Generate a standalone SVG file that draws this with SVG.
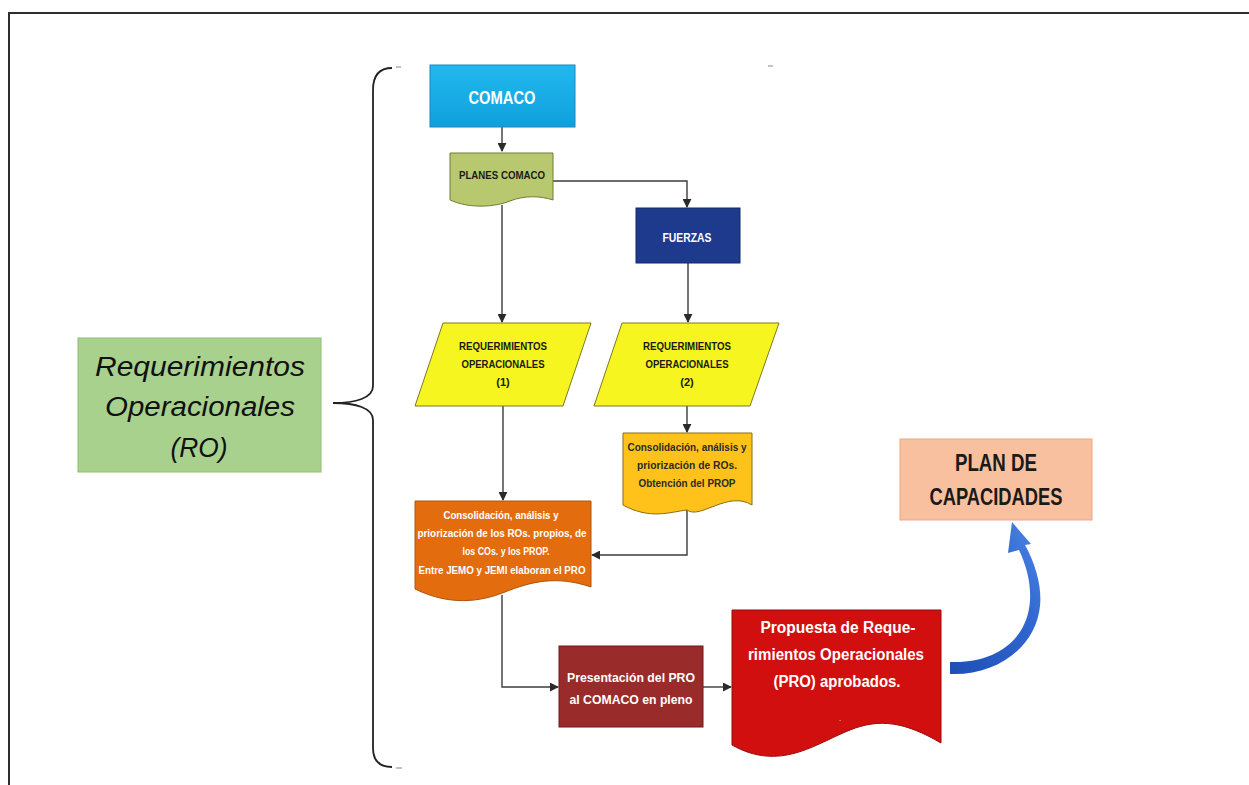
<svg xmlns="http://www.w3.org/2000/svg" width="1249" height="785" viewBox="0 0 1249 785">
  <style>
    .conn { fill: none; stroke: #3c3c3c; stroke-width: 1.4; }
    .lbl { font-family: "Liberation Sans", Arial, sans-serif; text-anchor: middle; }
    .small { font-size: 11px; font-weight: bold; fill: #1a1a1a; }
    .white { fill: #ffffff; }
    .b { font-weight: bold; }
  </style>
  <defs>
    <marker id="arr" viewBox="0 0 10 10" refX="9" refY="5" markerWidth="9" markerHeight="9" markerUnits="userSpaceOnUse" orient="auto">
      <path d="M0,0 L10,5 L0,10 Z" fill="#2a2a2a"/>
    </marker>
    <linearGradient id="gCom" x1="0" y1="0" x2="0" y2="1">
      <stop offset="0" stop-color="#22b8ef"/>
      <stop offset="1" stop-color="#0fa0dc"/>
    </linearGradient>
    <linearGradient id="gBlue" x1="0" y1="1" x2="1" y2="0">
      <stop offset="0" stop-color="#1e4fb5"/>
      <stop offset="0.6" stop-color="#2f66cf"/>
      <stop offset="1" stop-color="#4f86e4"/>
    </linearGradient>
  </defs>

  <rect width="1249" height="785" fill="#ffffff"/>
  <!-- frame -->
  <path d="M9 785 V13 H1249" fill="none" stroke="#2e2e2e" stroke-width="2"/>

  <!-- brace -->
  <g id="brace">
    <path d="M392 68 C380 68 373 75 373 90 V386 C373 398 356 403 333 403 C356 403 373 408 373 420 V748 C373 761 380 767 392 767" fill="none" stroke="#222" stroke-width="1.8"/>
    <path d="M396 67 H401 M396 768 H402 M768 66 H773" stroke="#888" stroke-width="1.2"/>
  </g>

  <!-- connectors -->
  <g id="connectors">
    <path class="conn" d="M502 127 V151" marker-end="url(#arr)"/>
    <path class="conn" d="M553 181 H687 V207" marker-end="url(#arr)"/>
    <path class="conn" d="M502 205 V322" marker-end="url(#arr)"/>
    <path class="conn" d="M688 263 V322" marker-end="url(#arr)"/>
    <path class="conn" d="M503 406 V500" marker-end="url(#arr)"/>
    <path class="conn" d="M687 406 V432" marker-end="url(#arr)"/>
    <path class="conn" d="M687 508 V555 H592" marker-end="url(#arr)"/>
    <path class="conn" d="M502 595 V687 H558" marker-end="url(#arr)"/>
    <path class="conn" d="M703 687 H731" marker-end="url(#arr)"/>
  </g>

  <g id="ro">
    <rect x="78" y="338" width="243" height="134" fill="#a9d18e" stroke="#8fbe72" stroke-width="1"/>
    <text class="lbl" x="200" y="376" font-size="27" font-style="italic" fill="#111" textLength="210" lengthAdjust="spacingAndGlyphs">Requerimientos</text>
    <text class="lbl" x="200" y="416" font-size="27" font-style="italic" fill="#111" textLength="190" lengthAdjust="spacingAndGlyphs">Operacionales</text>
    <text class="lbl" x="199" y="457" font-size="27" font-style="italic" fill="#111" textLength="57" lengthAdjust="spacingAndGlyphs">(RO)</text>
  </g>

  <g id="comaco">
    <rect x="430" y="65" width="145" height="62" fill="url(#gCom)" stroke="#1a86bf" stroke-width="1"/>
    <text class="lbl white b" x="502" y="104" font-size="18" textLength="67" lengthAdjust="spacingAndGlyphs">COMACO</text>
  </g>

  <g id="planes">
    <path d="M450 153 H553 V200 C541 196 525 195 510 201 C495 207 470 209 450 200 Z" fill="#b7c86e" stroke="#6f7d33" stroke-width="1"/>
    <text class="lbl small" x="502" y="179" font-size="10" textLength="86" lengthAdjust="spacingAndGlyphs">PLANES COMACO</text>
  </g>

  <g id="fuerzas">
    <rect x="636" y="208" width="104" height="55" fill="#1e3a8c" stroke="#132a68" stroke-width="1"/>
    <text class="lbl white b" x="687" y="242" font-size="13" textLength="49" lengthAdjust="spacingAndGlyphs">FUERZAS</text>
  </g>

  <g id="req1">
    <path d="M443 323 H591 L563 406 H415 Z" fill="#f6f51f" stroke="#7d7a25" stroke-width="1"/>
    <text class="lbl small" x="503" y="350" font-size="10" textLength="88" lengthAdjust="spacingAndGlyphs">REQUERIMIENTOS</text>
    <text class="lbl small" x="503" y="368" font-size="10" textLength="83" lengthAdjust="spacingAndGlyphs">OPERACIONALES</text>
    <text class="lbl small" x="503" y="386" font-size="10">(1)</text>
  </g>

  <g id="req2">
    <path d="M622 323 H779 L750 406 H594 Z" fill="#f6f51f" stroke="#7d7a25" stroke-width="1"/>
    <text class="lbl small" x="687" y="350" font-size="10" textLength="88" lengthAdjust="spacingAndGlyphs">REQUERIMIENTOS</text>
    <text class="lbl small" x="687" y="368" font-size="10" textLength="83" lengthAdjust="spacingAndGlyphs">OPERACIONALES</text>
    <text class="lbl small" x="687" y="386" font-size="10">(2)</text>
  </g>

  <g id="prop">
    <path d="M623 433 H752 V505 C728 490 700 520 687 510 C670 512 650 520 623 505 Z" fill="#ffc21a" stroke="#8b6c12" stroke-width="1"/>
    <text class="lbl" x="687" y="451" font-size="11" font-weight="bold" fill="#2a2a2a" textLength="119" lengthAdjust="spacingAndGlyphs">Consolidación, análisis y</text>
    <text class="lbl" x="687" y="469" font-size="11" font-weight="bold" fill="#2a2a2a" textLength="100" lengthAdjust="spacingAndGlyphs">priorización de ROs.</text>
    <text class="lbl" x="687" y="487" font-size="11" font-weight="bold" fill="#2a2a2a" textLength="97" lengthAdjust="spacingAndGlyphs">Obtención del PROP</text>
  </g>

  <g id="pro">
    <path d="M415 501 H591 V587 C556 575 530 582 505 592 C480 602 450 606 415 589 Z" fill="#e36c0e" stroke="#b0540c" stroke-width="1"/>
    <text class="lbl white b" x="501" y="519" font-size="11" textLength="115" lengthAdjust="spacingAndGlyphs">Consolidación, análisis y</text>
    <text class="lbl white b" x="502" y="537" font-size="11" textLength="169" lengthAdjust="spacingAndGlyphs">priorización de los ROs. propios, de</text>
    <text class="lbl white b" x="506" y="555" font-size="11" textLength="87" lengthAdjust="spacingAndGlyphs">los COs. y los PROP.</text>
    <text class="lbl white b" x="502" y="574" font-size="11" textLength="167" lengthAdjust="spacingAndGlyphs">Entre JEMO y JEMI elaboran el PRO</text>
  </g>

  <g id="presentacion">
    <rect x="559" y="646" width="144" height="81" fill="#9a2b2b" stroke="#6b1b1b" stroke-width="1"/>
    <text class="lbl white b" x="631" y="682" font-size="13" textLength="128" lengthAdjust="spacingAndGlyphs">Presentación del PRO</text>
    <text class="lbl white b" x="631" y="704" font-size="13" textLength="123" lengthAdjust="spacingAndGlyphs">al COMACO en pleno</text>
  </g>

  <g id="propuesta">
    <path d="M732 610 H941 V743 C905 722 880 718 850 730 C815 744 780 772 732 745 Z" fill="#d20f0f" stroke="#9c0a0a" stroke-width="1"/>
    <text class="lbl white b" x="838" y="633" font-size="16" textLength="155" lengthAdjust="spacingAndGlyphs">Propuesta de Reque-</text>
    <text class="lbl white b" x="836" y="660" font-size="16" textLength="176" lengthAdjust="spacingAndGlyphs">rimientos Operacionales</text>
    <text class="lbl white b" x="837" y="687" font-size="16" textLength="127" lengthAdjust="spacingAndGlyphs">(PRO) aprobados.</text>
    <text class="lbl white" x="840" y="721" font-size="8">.</text>
  </g>

  <g id="plan">
    <rect x="900" y="439" width="192" height="81" fill="#f8c09e" stroke="#eaa887" stroke-width="1"/>
    <text class="lbl" x="996" y="471" font-size="23" font-weight="bold" fill="#1a1a1a" textLength="82" lengthAdjust="spacingAndGlyphs">PLAN DE</text>
    <text class="lbl" x="996" y="505" font-size="23" font-weight="bold" fill="#1a1a1a" textLength="133" lengthAdjust="spacingAndGlyphs">CAPACIDADES</text>
  </g>

  <g id="curved-arrow">
    <path d="M950 662 C995 664 1028 640 1030 600 C1031 582 1026 565 1019 550 L1008 553 L1012 522 L1031 544 L1025 545 C1036 565 1042 587 1040 606 C1036 648 995 676 950 674 Z" fill="url(#gBlue)"/>
  </g>
</svg>
